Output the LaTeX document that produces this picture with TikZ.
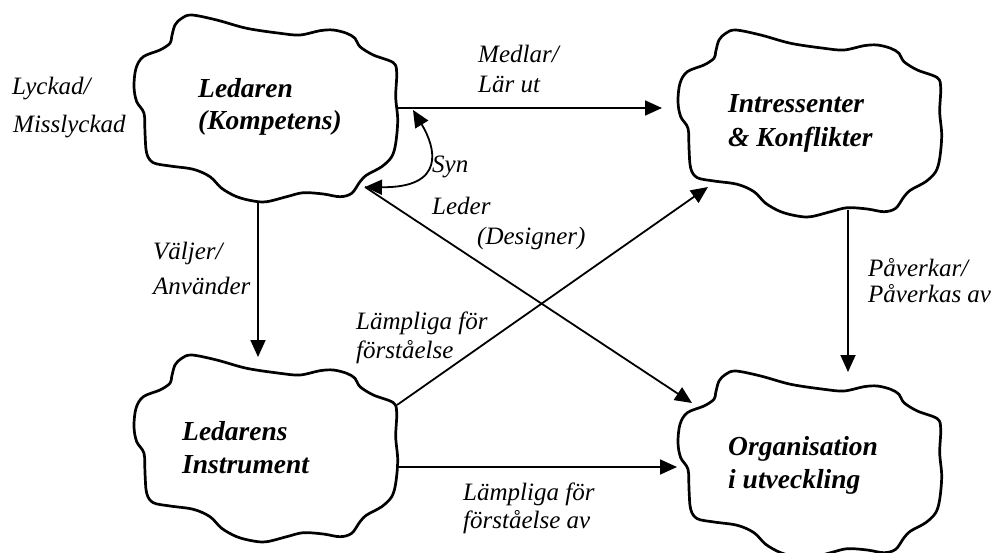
\documentclass[tikz,border=0pt]{standalone}
\usepackage{fontspec}
\setmainfont{Liberation Serif}
\usetikzlibrary{arrows.meta}
\begin{document}
\begin{tikzpicture}[x=1pt,y=-1pt,
  cloudline/.style={line width=2.7pt, line join=round},
  conn/.style={line width=1.8pt, -{Triangle[length=17pt,width=15pt]}},
  biconn/.style={line width=1.8pt, {Triangle[length=17pt,width=15pt]}-{Triangle[length=17pt,width=15pt]}},
  cloudtxt/.style={anchor=base west, inner sep=0pt, font=\fontsize{27.5}{33}\selectfont\bfseries\itshape},
  lbl/.style={anchor=base west, inner sep=0pt, font=\fontsize{25}{30}\selectfont\itshape}]
\path[use as bounding box, clip] (0,0) rectangle (996,553);
\fill[white] (0,0) rectangle (996,553);

% the four clouds share one outline, shifted into place
\foreach \dx/\dy in {0/0, 544/15, 0/340, 544/356}{
  \draw[cloudline, shift={(\dx,\dy)}] plot[smooth cycle, tension=0.55] coordinates {
    (171.7,36.7) (175,25) (181.7,18.3) (191.7,15) (216.7,20) (246.7,28.3)
    (280,33.3) (300,35) (320,30.7) (333.3,30) (346.7,33.3) (355,38.3)
    (360,46.7) (373.3,55) (393.3,62.7) (396.7,73.3) (395.7,96.7) (397.7,120)
    (395.7,143.3) (391.7,156.7) (381.7,166.7) (366.7,175) (360,181.7)
    (351.7,193.3) (340,196.7) (323.3,194) (303.3,192.7) (286.7,196.7)
    (266.7,201.7) (253.3,201) (236.7,196.7) (221.7,188.3) (210,176.7)
    (193.3,169.3) (170,166) (153.3,162.7) (146.7,153.3) (145,133.3)
    (144,113.3) (136.7,101.7) (134,86.7) (136,68.3) (143.3,56.7) (160,50)
    (170,43.3)};
}

% cloud texts
\node[cloudtxt] (led1) at (198,98) {Ledaren};
\node[cloudtxt] (led2) at (198,130) {(Kompetens)};
\node[cloudtxt] (int1) at (728,113) {Intressenter};
\node[cloudtxt] (int2) at (728,147) {\& Konflikter};
\node[cloudtxt] (ins1) at (182,440) {Ledarens};
\node[cloudtxt] (ins2) at (182,473) {Instrument};
\node[cloudtxt] (org1) at (728,455) {Organisation};
\node[cloudtxt] (org2) at (728,488) {i utveckling};

% connector end points on the cloud outlines
\coordinate (ledE) at (397,108);
\coordinate (ledS) at (258,202);
\coordinate (ledSE) at (365,187);
\coordinate (ledSyn) at (413,110);
\coordinate (intW) at (662,108);
\coordinate (intS) at (848,210);
\coordinate (intSW) at (708,187);
\coordinate (insN) at (258,357);
\coordinate (insE) at (397,405);
\coordinate (insE2) at (397,467);
\coordinate (orgN) at (848,372);
\coordinate (orgNW) at (692,403);
\coordinate (orgW) at (677,467);

% connectors
\draw[conn] (ledE) -- (intW);
\draw[biconn] (ledSyn) .. controls (436,148) and (446,188) .. (ledSE);
\draw[conn] (ledSE) -- (orgNW);
\draw[conn] (ledS) -- (insN);
\draw[conn] (insE) -- (intSW);
\draw[conn] (insE2) -- (orgW);
\draw[conn] (intS) -- (orgN);

% labels
\node[lbl] (l1a) at (12,95) {Lyckad/};
\node[lbl] (l1b) at (13,133) {Misslyckad};
\node[lbl] (l2a) at (478,63) {Medlar/};
\node[lbl] (l2b) at (478,93) {Lär ut};
\node[lbl] (l3) at (432,173) {Syn};
\node[lbl] (l4a) at (432,215) {Leder};
\node[lbl] (l4b) at (477,245) {(Designer)};
\node[lbl] (l5a) at (153,260) {Väljer/};
\node[lbl] (l5b) at (153,295) {Använder};
\node[lbl] (l6a) at (868,277) {Påverkar/};
\node[lbl] (l6b) at (868,303) {Påverkas av};
\node[lbl] (l7a) at (356,330) {Lämpliga för};
\node[lbl] (l7b) at (356,358) {förståelse};
\node[lbl] (l8a) at (463,500) {Lämpliga för};
\node[lbl] (l8b) at (463,528) {förståelse av};
\end{tikzpicture}
\end{document}
